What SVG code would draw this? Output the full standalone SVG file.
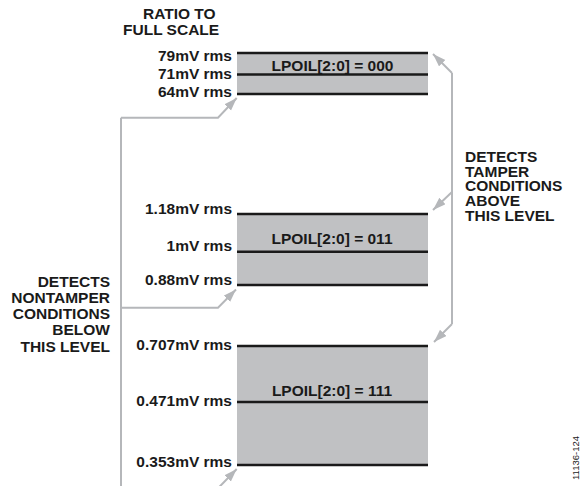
<svg xmlns="http://www.w3.org/2000/svg" width="584" height="486" viewBox="0 0 584 486">
<style>
text{font-family:"Liberation Sans",Arial,Helvetica,sans-serif;font-weight:bold;font-size:15.5px;fill:#1a1a1a}
.v{text-anchor:end}
.c{text-anchor:middle}
.band{fill:#c0c1c3}
.lvl{stroke:#1a1a1a;stroke-width:2.6;fill:none}
.con{stroke:#b5b7ba;stroke-width:2;fill:none}
.fid{font-weight:normal;font-size:9.5px;text-anchor:middle}
</style>
<defs>
<marker id="ah" markerUnits="userSpaceOnUse" markerWidth="14" markerHeight="10" refX="13" refY="4.5" orient="auto">
<path d="M0,0 L13,4.5 L0,9 z" fill="#b5b7ba"/>
</marker>
</defs>
<g id="title">
<text x="143" y="19">RATIO TO</text>
<text x="123" y="35">FULL SCALE</text>
</g>
<g id="box000">
<rect class="band" x="237" y="53" width="191" height="41"/>
<line class="lvl" x1="237" y1="53" x2="428" y2="53"/>
<line class="lvl" x1="237" y1="74.5" x2="428" y2="74.5"/>
<line class="lvl" x1="237" y1="94" x2="428" y2="94"/>
<text class="c" x="332.5" y="70.5">LPOIL[2:0] = 000</text>
<text class="v" x="232" y="61">79mV rms</text>
<text class="v" x="232" y="79">71mV rms</text>
<text class="v" x="232" y="97">64mV rms</text>
</g>
<g id="box011">
<rect class="band" x="237" y="214" width="191" height="71"/>
<line class="lvl" x1="237" y1="214" x2="428" y2="214"/>
<line class="lvl" x1="237" y1="251.7" x2="428" y2="251.7"/>
<line class="lvl" x1="237" y1="285" x2="428" y2="285"/>
<text class="c" x="332" y="244">LPOIL[2:0] = 011</text>
<text class="v" x="232" y="213.5">1.18mV rms</text>
<text class="v" x="232" y="250.5">1mV rms</text>
<text class="v" x="232" y="285">0.88mV rms</text>
</g>
<g id="box111">
<rect class="band" x="237" y="346" width="191" height="119"/>
<line class="lvl" x1="237" y1="346" x2="428" y2="346"/>
<line class="lvl" x1="237" y1="402" x2="428" y2="402"/>
<line class="lvl" x1="237" y1="465" x2="428" y2="465"/>
<text class="c" x="332" y="396">LPOIL[2:0] = 111</text>
<text class="v" x="232" y="350">0.707mV rms</text>
<text class="v" x="232" y="406">0.471mV rms</text>
<text class="v" x="232" y="466.5">0.353mV rms</text>
</g>
<g id="label-nontamper">
<text class="v" x="110" y="286.5">DETECTS</text>
<text class="v" x="110" y="302.7">NONTAMPER</text>
<text class="v" x="110" y="319">CONDITIONS</text>
<text class="v" x="110" y="335">BELOW</text>
<text class="v" x="110" y="351.5">THIS LEVEL</text>
</g>
<g id="label-tamper">
<text x="465" y="162">DETECTS</text>
<text x="465" y="176.7">TAMPER</text>
<text x="465" y="191.4">CONDITIONS</text>
<text x="465" y="206">ABOVE</text>
<text x="465" y="220.7">THIS LEVEL</text>
</g>
<g id="connectors">
<path class="con" d="M121,490 V117.7"/>
<path class="con" d="M121,117.7 H218 L236.7,98" marker-end="url(#ah)"/>
<path class="con" d="M121,307.7 H218 L236,289.5" marker-end="url(#ah)"/>
<path class="con" d="M121,487.8 H218.5 L236.7,469" marker-end="url(#ah)"/>
<path class="con" d="M452,73 V324"/>
<path class="con" d="M452,73 L433,54" marker-end="url(#ah)"/>
<path class="con" d="M452,192 L433,210" marker-end="url(#ah)"/>
<path class="con" d="M452,324 L434,342" marker-end="url(#ah)"/>
</g>
<g id="figure-id">
<text class="fid" transform="translate(579,458) rotate(-90)">11136-124</text>
</g>
</svg>
